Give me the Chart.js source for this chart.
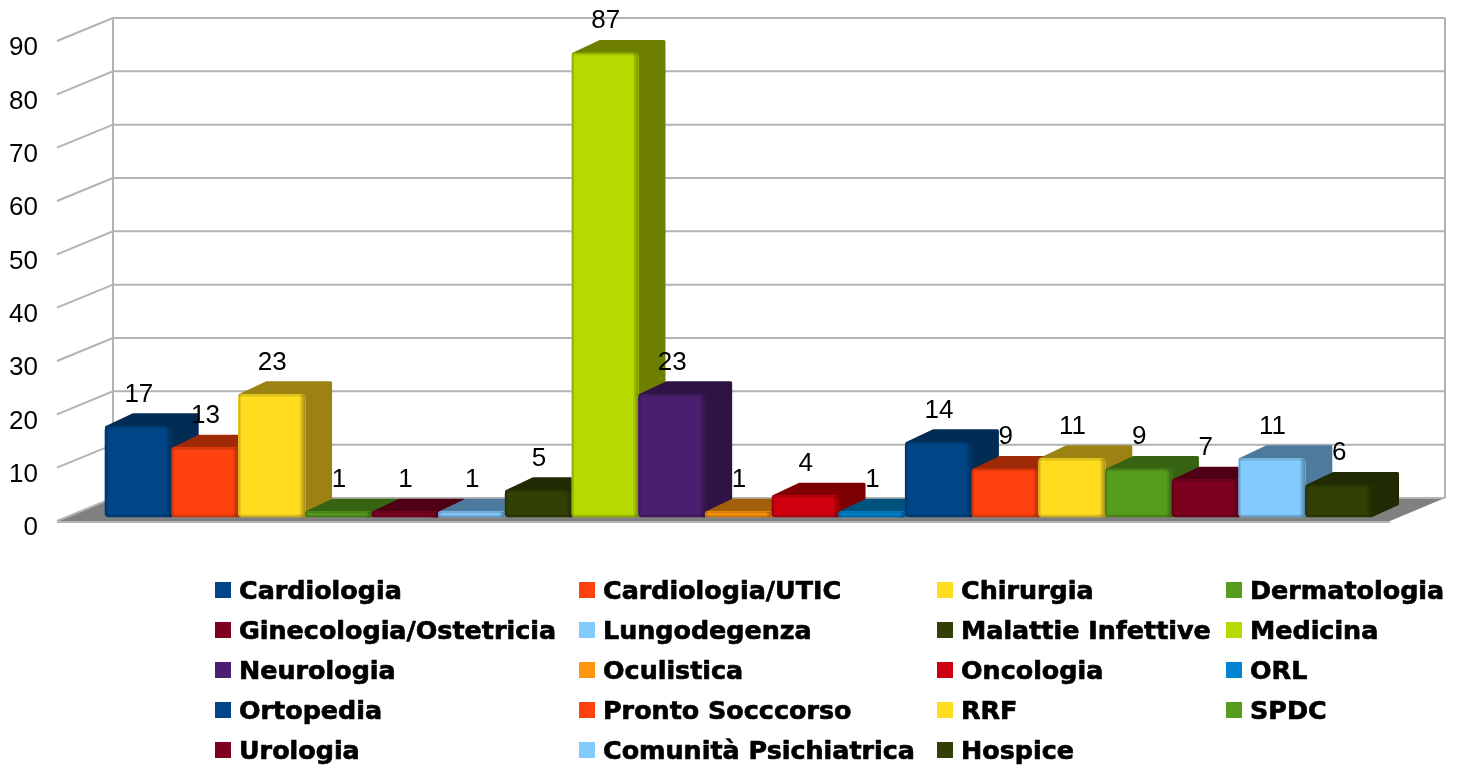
<!DOCTYPE html>
<html>
<head>
<meta charset="utf-8">
<title>Reparti</title>
<script src="https://cdn.jsdelivr.net/npm/chart.js@4/dist/chart.umd.min.js"></script>
<style>html,body{margin:0;padding:0;background:#fff;overflow:hidden}canvas{display:block}</style>
</head>
<body>
<canvas id="c" width="1457" height="769"></canvas>
<script>
const categories = [''];
const departments = ['Cardiologia','Cardiologia/UTIC','Chirurgia','Dermatologia','Ginecologia/Ostetricia','Lungodegenza','Malattie Infettive','Medicina','Neurologia','Oculistica','Oncologia','ORL','Ortopedia','Pronto Socccorso','RRF','SPDC','Urologia','Comunità Psichiatrica','Hospice'];
const values = [17,13,23,1,1,1,5,87,23,1,4,1,14,9,11,9,7,11,6];
const frontColors = ['#004586','#ff420e','#ffdc20','#579d1c','#7e0021','#83caff','#314004','#b7da00','#4b1f6f','#ff950e','#cf000e','#0084d1','#004586','#ff420e','#ffdc20','#579d1c','#7e0021','#83caff','#314004'];
const sideColors = ['#032c55','#9e2a07','#9c8213','#376412','#500015','#4e7a9e','#202a03','#6e7f00','#2f1346','#a16009','#7e0005','#00527f','#032c55','#9e2a07','#9c8213','#376412','#500015','#4e7a9e','#202a03'];
const yTicks = [0,10,20,30,40,50,60,70,80,90];
const legendColumns = [[215,239],[579,603],[937,961],[1226,1250]];
const legendRows = [591,631,671,711,751];

const depth = {dx:27, dy:-13};
const wall = {left:113, right:1445, dy:-19, frontX:57, frontDy:4, floorRight:1390};

function barBox(el){
  const p = el.getProps(['x','y','base','width'], true);
  return {x0:p.x-p.width/2, x1:p.x+p.width/2, top:p.y, base:p.base};
}
function drawWalls(chart){
  const c = chart.ctx, s = chart.scales.y;
  c.save();
  const y0 = s.getPixelForValue(0);
  c.fillStyle = '#808080';
  c.beginPath();
  c.moveTo(wall.frontX, y0+wall.frontDy);
  c.lineTo(wall.left, y0+wall.dy);
  c.lineTo(wall.right, y0+wall.dy);
  c.lineTo(wall.floorRight, y0+wall.frontDy);
  c.closePath(); c.fill();
  c.strokeStyle = '#b3b3b3'; c.lineWidth = 2;
  yTicks.forEach(v=>{
    const y = s.getPixelForValue(v);
    c.beginPath();
    c.moveTo(wall.frontX, y+wall.frontDy);
    c.lineTo(wall.left, y+wall.dy);
    c.lineTo(wall.right, y+wall.dy);
    c.stroke();
  });
  c.beginPath();
  c.moveTo(wall.left, s.getPixelForValue(90)+wall.dy);
  c.lineTo(wall.left, y0+wall.dy);
  c.moveTo(wall.right, s.getPixelForValue(90)+wall.dy);
  c.lineTo(wall.right, y0+wall.dy);
  c.moveTo(wall.frontX, y0+wall.frontDy+1);
  c.lineTo(wall.floorRight, y0+wall.frontDy+1);
  c.stroke();
  c.restore();
}
function drawSide(c,b,i){
  const col = sideColors[i];
  c.save();
  c.fillStyle = col; c.strokeStyle = col; c.lineWidth = 3; c.lineJoin = 'round';
  c.beginPath();
  c.moveTo(b.x0+1.5, b.top+1);
  c.lineTo(b.x0+depth.dx+1, b.top+depth.dy+1.5);
  c.lineTo(b.x1+depth.dx-1.5, b.top+depth.dy+1.5);
  c.lineTo(b.x1+depth.dx-1.5, b.base+depth.dy);
  c.lineTo(b.x1-1, b.base-1);
  c.closePath(); c.fill(); c.stroke();
  c.restore();
}
function strip(c,x0,y0,x1,y1,rx,ry,rw,rh,alpha){
  const g = c.createLinearGradient(x0,y0,x1,y1);
  g.addColorStop(0,'rgba(0,0,0,'+alpha+')');
  g.addColorStop(1,'rgba(0,0,0,0)');
  c.fillStyle = g; c.fillRect(rx,ry,rw,rh);
}
function drawBevel(c,b){
  const w = b.x1-b.x0, h = b.base-b.top, x = b.x0, y = b.top;
  const v = Math.min(3, h/2), r = 6, l = 3;
  c.save();
  c.beginPath(); c.roundRect(x, y, w, h, 4); c.clip();
  strip(c, x,0, x+l,0, x,y,l,h, 0.28);
  strip(c, x+w,0, x+w-r,0, x+w-r,y,r,h, 0.36);
  strip(c, 0,y, 0,y+v, x,y,w,v, 0.22);
  strip(c, 0,y+h, 0,y+h-v, x,y+h-v,w,v, 0.28);
  c.restore();
}
function drawValueLabels(chart,metas){
  const c = chart.ctx;
  c.save();
  c.fillStyle = '#000'; c.textAlign = 'center'; c.textBaseline = 'middle';
  c.font = '26px "Liberation Sans"';
  metas.forEach(m=>{
    const b = barBox(m.data[0]);
    c.fillText(String(values[m.index]), (b.x0+b.x1)/2+0.5, b.top-32);
  });
  c.restore();
}
function drawLegend(chart){
  const c = chart.ctx;
  departments.forEach((name,i)=>{
    const col = legendColumns[i%4], y = legendRows[Math.floor(i/4)];
    c.save();
    c.fillStyle = frontColors[i];
    c.fillRect(col[0], y-9, 16, 16);
    c.fillStyle = '#000'; c.strokeStyle = '#000'; c.lineWidth = 0.7; c.lineJoin = 'round';
    c.textAlign = 'left'; c.textBaseline = 'middle';
    c.font = 'bold 25.4px "DejaVu Sans"';
    c.strokeText(name, col[1], y+1);
    c.fillText(name, col[1], y+1);
    c.restore();
  });
}

const scene = {
  id:'scene',
  beforeDatasetsDraw(chart){
    // bars are painted left to right, each with its depth faces behind it
    const metas = chart.getSortedVisibleDatasetMetas();
    drawWalls(chart);
    metas.forEach(m=>{
      const b = barBox(m.data[0]);
      drawSide(chart.ctx,b,m.index);
      m.controller.draw();
      drawBevel(chart.ctx,b);
    });
    drawValueLabels(chart,metas);
    drawLegend(chart);
    return false;
  }
};

new Chart(document.getElementById('c'), {
  type:'bar',
  data:{
    labels:categories,
    datasets:departments.map((name,i)=>({
      label:name,
      data:[values[i]],
      backgroundColor:frontColors[i],
      borderWidth:0,
      borderRadius:4,
      borderSkipped:false,
      barPercentage:1,
      categoryPercentage:1
    }))
  },
  options:{
    responsive:false,
    animation:false,
    devicePixelRatio:1,
    layout:{padding:{left:0,right:85,top:37,bottom:252}},
    plugins:{legend:{display:false},tooltip:{enabled:false},title:{display:false}},
    scales:{
      x:{display:false},
      y:{
        min:0,max:90,
        afterFit(s){s.width=105;s.paddingTop=0;s.paddingBottom=0;},
        grid:{display:false,drawTicks:false},
        border:{display:false},
        ticks:{stepSize:10,padding:67,labelOffset:11,color:'#000',font:{family:'"Liberation Sans"',size:26}}
      }
    }
  },
  plugins:[scene]
});
</script>
</body>
</html>
